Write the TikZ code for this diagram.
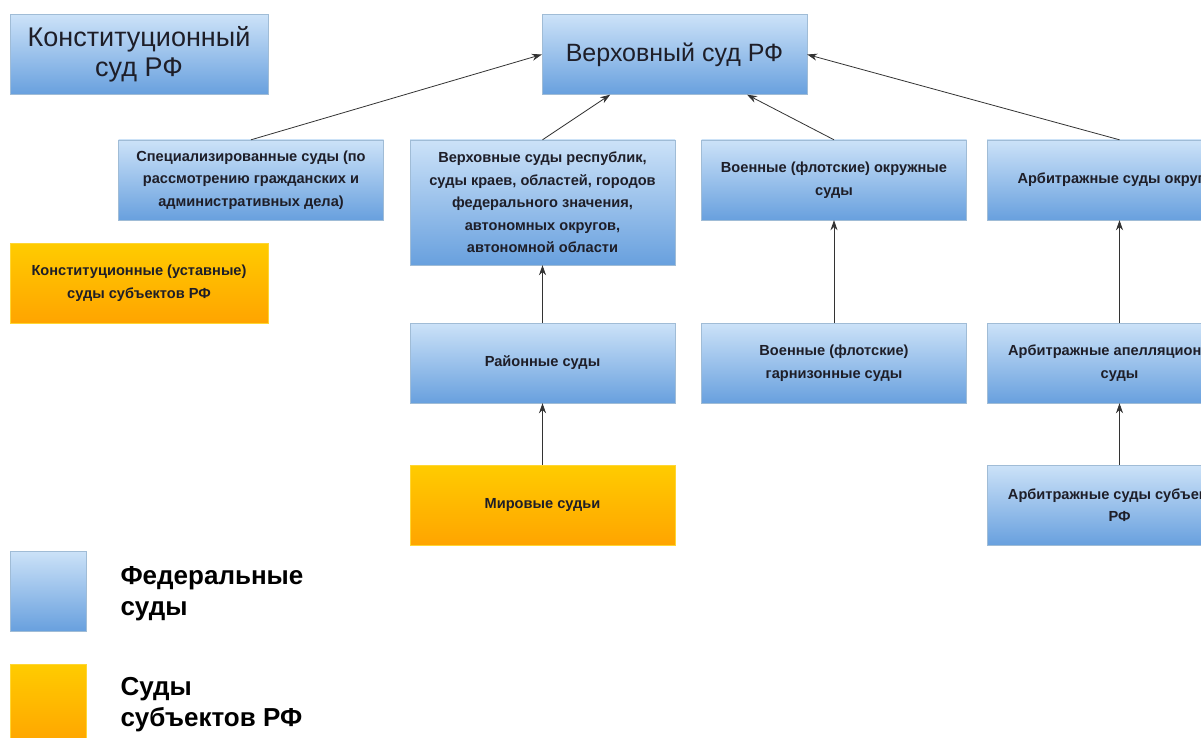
\documentclass[tikz,border=0pt]{standalone}
\usepackage{fontspec}
\setmainfont{Liberation Sans}
\usetikzlibrary{arrows.meta, positioning}
\definecolor{fedtop}{RGB}{204,226,248}
\definecolor{fedbot}{RGB}{104,160,222}
\definecolor{subtop}{RGB}{255,204,0}
\definecolor{subbot}{RGB}{255,164,0}
\definecolor{edgecol}{RGB}{160,188,214}
\definecolor{textcol}{RGB}{30,30,40}

\begin{document}
\begin{tikzpicture}[
    x=1pt, y=-1pt,
    court/.style={draw=edgecol, top color=fedtop, bottom color=fedbot, minimum width=265pt, minimum height=80pt, align=center, text=textcol, font=\fontsize{14.6}{22.5}\selectfont\bfseries, inner sep=2pt},
    regcourt/.style={court, draw=subtop!80!white, top color=subtop, bottom color=subbot},
    bigcourt/.style={court, font=\fontsize{25}{30}\selectfont},
    legendtext/.style={anchor=west, align=left, font=\fontsize{26}{31}\selectfont\bfseries},
    link/.style={-{Stealth[length=10pt, width=7pt]}, draw=black!80, thick}
]
    \useasboundingbox (0,0) rectangle (1201,738);
    \clip (0,0) rectangle (1201,738);
    \fill[white] (0,0) rectangle (1201,738);

    % Top courts
    \node[bigcourt, minimum width=258pt, font=\fontsize{27}{30}\selectfont] (konst) at (139,54.5) {Конституционный\\суд РФ};
    \node[bigcourt] (verkh) at (674.5,54.5) {Верховный суд РФ};

    % Second level
    \node[court] (spec) at (251,180) {Специализированные суды (по\\рассмотрению гражданских и\\административных дела)};
    \node[court, minimum height=125pt] (resp) at (542.5,202.5) {Верховные суды республик,\\суды краев, областей, городов\\федерального значения,\\автономных округов,\\автономной области};
    \node[court] (okr) at (834,180) {Военные (флотские) окружные\\суды};
    \node[court] (arbokr) at (1119.5,180) {Арбитражные суды округов};

    % Lower levels
    \node[regcourt, minimum width=258pt] (konstsub) at (139,283) {Конституционные (уставные)\\суды субъектов РФ};
    \node[court] (raion) at (542.5,363) {Районные суды};
    \node[court] (garn) at (834,363) {Военные (флотские)\\гарнизонные суды};
    \node[court] (apell) at (1119.5,363) {Арбитражные апелляционные\\суды};
    \node[regcourt] (mir) at (542.5,505) {Мировые судьи};
    \node[court] (arbsub) at (1119.5,505) {Арбитражные суды субъектов\\РФ};

    % Legend
    \node[court, minimum width=76pt, minimum height=80pt] (legfed) at (48,591) {};
    \node[regcourt, minimum width=76pt, minimum height=80pt] (legsub) at (48,704) {};
    \node[legendtext] (legfedtext) at (117,594) {Федеральные\\суды};
    \node[legendtext] (legsubtext) at (117,705) {Суды\\субъектов РФ};

    % Links
    \draw[link] (spec.north) -- (verkh.west);
    \draw[link] (resp.north) -- (verkh.212);
    \draw[link] (okr.north) -- (verkh.331);
    \draw[link] (arbokr.north) -- (verkh.east);
    \draw[link] (raion) -- (resp);
    \draw[link] (mir) -- (raion);
    \draw[link] (garn) -- (okr);
    \draw[link] (apell) -- (arbokr);
    \draw[link] (arbsub) -- (apell);
\end{tikzpicture}
\end{document}
